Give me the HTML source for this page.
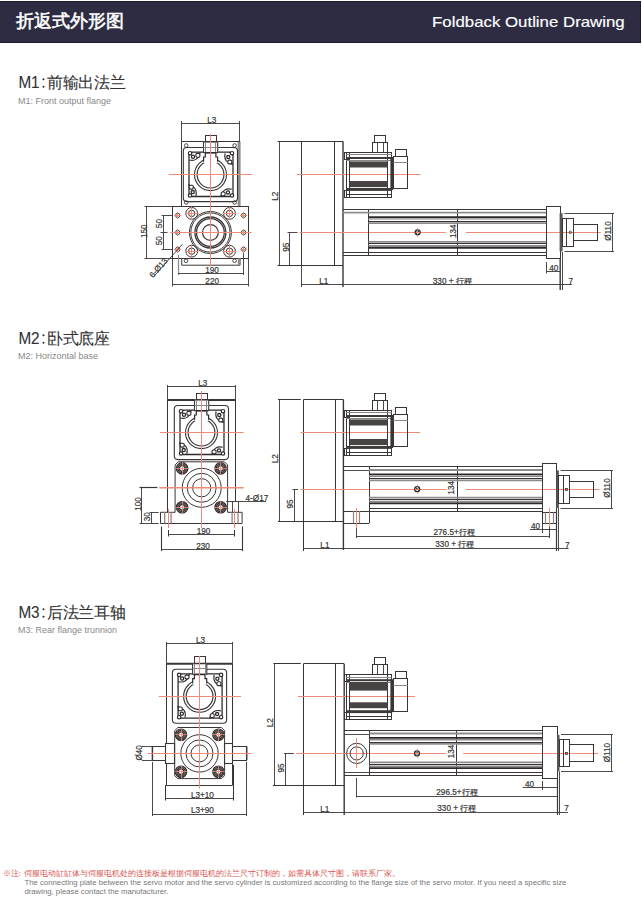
<!DOCTYPE html>
<html><head><meta charset="utf-8">
<style>
html,body{margin:0;padding:0;background:#fff;}
body{width:642px;height:904px;position:relative;overflow:hidden;font-family:"Liberation Sans",sans-serif;}
.hdr{position:absolute;left:0;top:1px;width:640px;height:40px;background:#2e2c43;border-right:1px solid #1e1c33;border-bottom:1px solid #1e1c33;border-top:1px solid #1e1c33;box-sizing:content-box;}
svg{position:absolute;left:0;top:0;font-family:"Liberation Sans",sans-serif;}
</style></head><body>
<div class="hdr"></div>
<svg width="642" height="904" viewBox="0 0 642 904">
<text x="16" y="27.1" font-size="18.3" fill="#fff" stroke="#fff" stroke-width="0.55">折返式外形图</text>
<text x="624.7" y="26.9" font-size="14.2" fill="#fff" stroke="#fff" stroke-width="0.15" text-anchor="end" textLength="192.6" lengthAdjust="spacingAndGlyphs">Foldback Outline Drawing</text>
<text x="18.4" y="87.8" font-size="16.3" fill="#333" stroke="#333" stroke-width="0.1" textLength="21.2" lengthAdjust="spacingAndGlyphs">M1</text><circle cx="43.5" cy="79.2" r="1.05" fill="#333"/><circle cx="43.5" cy="86.8" r="1.05" fill="#333"/><text x="46.6" y="88" font-size="15.6" fill="#333" stroke="#333" stroke-width="0.1" lengthAdjust="spacingAndGlyphs" textLength="79.6">前输出法兰</text>
<text x="18" y="103.6" font-size="9" fill="#888">M1: Front output flange</text>
<text x="18.4" y="343.8" font-size="16.3" fill="#333" stroke="#333" stroke-width="0.1" textLength="21.2" lengthAdjust="spacingAndGlyphs">M2</text><circle cx="43.5" cy="335.2" r="1.05" fill="#333"/><circle cx="43.5" cy="342.8" r="1.05" fill="#333"/><text x="46.6" y="344" font-size="15.6" fill="#333" stroke="#333" stroke-width="0.1" lengthAdjust="spacingAndGlyphs" textLength="63.7">卧式底座</text>
<text x="18" y="358.6" font-size="9" fill="#888">M2: Horizontal base</text>
<text x="18.4" y="617.8" font-size="16.3" fill="#333" stroke="#333" stroke-width="0.1" textLength="21.2" lengthAdjust="spacingAndGlyphs">M3</text><circle cx="43.5" cy="609.2" r="1.05" fill="#333"/><circle cx="43.5" cy="616.8" r="1.05" fill="#333"/><text x="46.6" y="618" font-size="15.6" fill="#333" stroke="#333" stroke-width="0.1" lengthAdjust="spacingAndGlyphs" textLength="79.6">后法兰耳轴</text>
<text x="18" y="632.5" font-size="9" fill="#888">M3: Rear flange trunnion</text>
<text x="2.5" y="876" font-size="8" fill="#d9534f">※注:<tspan dx="3.6">伺服电动缸缸体与伺服电机处的连接板是根据伺服电机的法兰尺寸订制的，如需具体尺寸图，请联系厂家。</tspan></text>
<text x="24.4" y="884.9" font-size="8" fill="#777" textLength="542" lengthAdjust="spacingAndGlyphs">The connecting plate between the servo motor and the servo cylinder is customized according to the flange size of the servo motor. If you need a specific size</text>
<text x="24.4" y="893.8" font-size="8" fill="#777" textLength="144" lengthAdjust="spacingAndGlyphs">drawing, please contact the manufacturer.</text>
<line x1="181.5" y1="141.4" x2="181.5" y2="206.2" stroke="#3a3636" stroke-width="1" />
<line x1="239.5" y1="141.4" x2="239.5" y2="206.2" stroke="#3a3636" stroke-width="1" />
<rect x="237.6" y="141.4" width="3.0" height="64.79999999999998" fill="#8f8c8c"/>
<line x1="181.5" y1="141.5" x2="239.8" y2="141.5" stroke="#3a3636" stroke-width="1" />
<rect x="183.3" y="147.5" width="54.2" height="54.1" rx="3.5" stroke="#3a3636" stroke-width="1.1" fill="none"/>
<path d="M203.5 152.2 L192.2 152.2 L189.0 155.39999999999998 L189.0 193.3 L192.2 196.5 L229.8 196.5 L233.0 193.3 L233.0 155.39999999999998 L229.8 152.2 L217.5 152.2" stroke="#2f2b2b" stroke-width="1.3" fill="none"/>
<circle cx="190.0" cy="153.2" r="1.7" stroke="#2f2b2b" stroke-width="1.2" fill="#fff"/>
<circle cx="232.0" cy="153.2" r="1.7" stroke="#2f2b2b" stroke-width="1.2" fill="#fff"/>
<circle cx="190.0" cy="195.5" r="1.7" stroke="#2f2b2b" stroke-width="1.2" fill="#fff"/>
<circle cx="232.0" cy="195.5" r="1.7" stroke="#2f2b2b" stroke-width="1.2" fill="#fff"/>
<path d="M189.2 160.0 Q198.0 162.1 200.3 152.2" stroke="#2f2b2b" stroke-width="1.1" fill="none"/>
<circle cx="193.0" cy="156.79999999999998" r="1.6" stroke="#2f2b2b" stroke-width="1.3" fill="#fff"/>
<rect x="195.9" y="153.39999999999998" width="4" height="3.8" rx="1.3" stroke="#2f2b2b" stroke-width="1.1" fill="#fff"/>
<path d="M225.1 153.29999999999998 Q223.0 162.1 232.9 164.4" stroke="#2f2b2b" stroke-width="1.1" fill="none"/>
<circle cx="228.3" cy="157.1" r="1.6" stroke="#2f2b2b" stroke-width="1.3" fill="#fff"/>
<rect x="227.8" y="160.1" width="4" height="3.8" rx="1.3" stroke="#2f2b2b" stroke-width="1.1" fill="#fff"/>
<path d="M231.8 189.2 Q223.0 187.1 220.7 197.0" stroke="#2f2b2b" stroke-width="1.1" fill="none"/>
<circle cx="228.0" cy="192.4" r="1.6" stroke="#2f2b2b" stroke-width="1.3" fill="#fff"/>
<rect x="221.1" y="192.0" width="4" height="3.8" rx="1.3" stroke="#2f2b2b" stroke-width="1.1" fill="#fff"/>
<path d="M195.9 195.9 Q198.0 187.1 188.1 184.79999999999998" stroke="#2f2b2b" stroke-width="1.1" fill="none"/>
<circle cx="192.7" cy="192.1" r="1.6" stroke="#2f2b2b" stroke-width="1.3" fill="#fff"/>
<rect x="189.2" y="185.29999999999998" width="4" height="3.8" rx="1.3" stroke="#2f2b2b" stroke-width="1.1" fill="#fff"/>
<circle cx="210.5" cy="174.6" r="16.0" stroke="#3a3636" stroke-width="1.1" fill="none"/>
<circle cx="210.5" cy="174.6" r="13.4" stroke="#3a3636" stroke-width="1.2" fill="none"/>
<rect x="203.5" y="141.6" width="14.199999999999989" height="15.0" fill="#fff"/>
<rect x="203.5" y="155.1" width="14.0" height="8.0" fill="#fff"/>
<path d="M203.6 161.79999999999998 L203.6 157.0 L205.3 157.0 L205.3 152.79999999999998" stroke="#2f2b2b" stroke-width="1.2" fill="none"/>
<path d="M217.6 161.79999999999998 L217.6 157.0 L215.9 157.0 L215.9 152.79999999999998" stroke="#2f2b2b" stroke-width="1.2" fill="none"/>
<rect x="205.5" y="135.5" width="11.0" height="6.0" stroke="#3a3636" stroke-width="1" fill="none" rx="0"/>
<rect x="203.5" y="142.0" width="14.2" height="10.6" stroke="#3a3636" stroke-width="1.1" fill="none"/>
<line x1="205.5" y1="142.0" x2="205.5" y2="152.6" stroke="#8a8787" stroke-width="1" />
<line x1="215.5" y1="142.0" x2="215.5" y2="152.6" stroke="#8a8787" stroke-width="1" />
<line x1="203.5" y1="147.5" x2="217.7" y2="147.5" stroke="#8a8787" stroke-width="1" />
<line x1="205.3" y1="152.79999999999998" x2="215.9" y2="152.79999999999998" stroke="#2f2b2b" stroke-width="1.5" />
<circle cx="186.2" cy="145.5" r="1.8" stroke="#3a3636" stroke-width="0.9" fill="none"/>
<circle cx="186.2" cy="202.5" r="1.8" stroke="#3a3636" stroke-width="0.9" fill="none"/>
<circle cx="234.6" cy="145.5" r="1.8" stroke="#3a3636" stroke-width="0.9" fill="none"/>
<circle cx="234.6" cy="202.5" r="1.8" stroke="#3a3636" stroke-width="0.9" fill="none"/>
<line x1="181.5" y1="123.5" x2="239.8" y2="123.5" stroke="#3a3636" stroke-width="0.9" />
<line x1="181.5" y1="121" x2="181.5" y2="141.4" stroke="#3a3636" stroke-width="0.9" />
<line x1="239.5" y1="121" x2="239.5" y2="141.4" stroke="#3a3636" stroke-width="0.9" />
<text x="211.7" y="123.0" font-size="8.2" text-anchor="middle" fill="#333" stroke="#333" stroke-width="0.18" >L3</text>
<rect x="172.5" y="206.5" width="76.0" height="52.0" stroke="#3a3636" stroke-width="1" fill="none" rx="0"/>
<path d="M181.7 258.4 L181.7 265.2 L240 265.2 L240 258.4" stroke="#3a3636" stroke-width="1" fill="none"/>
<rect x="237.8" y="258.4" width="2.799999999999983" height="6.800000000000011" fill="#8f8c8c"/>
<circle cx="186" cy="260.8" r="1.8" stroke="#3a3636" stroke-width="0.9" fill="none"/>
<circle cx="234.5" cy="260.8" r="1.8" stroke="#3a3636" stroke-width="0.9" fill="none"/>
<circle cx="210.4" cy="232.5" r="21" stroke="#3a3636" stroke-width="1" fill="none"/>
<circle cx="210.4" cy="232.5" r="19.6" stroke="#3a3636" stroke-width="1" fill="none"/>
<circle cx="210.4" cy="232.5" r="15.5" stroke="#3a3636" stroke-width="1.3" fill="none"/>
<circle cx="210.4" cy="232.5" r="13.9" stroke="#3a3636" stroke-width="1.3" fill="none"/>
<circle cx="210.4" cy="232.5" r="7.9" stroke="#3a3636" stroke-width="1.2" fill="none"/>
<circle cx="191.7" cy="213.4" r="5.9" stroke="#3a3636" stroke-width="1" fill="none"/>
<circle cx="191.7" cy="213.4" r="3.2" stroke="#3a3636" stroke-width="1" fill="none"/>
<line x1="184.89999999999998" y1="213.5" x2="198.5" y2="213.5" stroke="#ec8c76" stroke-width="1" />
<line x1="191.5" y1="206.6" x2="191.5" y2="220.20000000000002" stroke="#ec8c76" stroke-width="1" />
<circle cx="229.5" cy="213.4" r="5.9" stroke="#3a3636" stroke-width="1" fill="none"/>
<circle cx="229.5" cy="213.4" r="3.2" stroke="#3a3636" stroke-width="1" fill="none"/>
<line x1="222.7" y1="213.5" x2="236.3" y2="213.5" stroke="#ec8c76" stroke-width="1" />
<line x1="229.5" y1="206.6" x2="229.5" y2="220.20000000000002" stroke="#ec8c76" stroke-width="1" />
<circle cx="191.7" cy="251.2" r="5.9" stroke="#3a3636" stroke-width="1" fill="none"/>
<circle cx="191.7" cy="251.2" r="3.2" stroke="#3a3636" stroke-width="1" fill="none"/>
<line x1="184.89999999999998" y1="251.5" x2="198.5" y2="251.5" stroke="#ec8c76" stroke-width="1" />
<line x1="191.5" y1="244.39999999999998" x2="191.5" y2="258.0" stroke="#ec8c76" stroke-width="1" />
<circle cx="229.5" cy="251.2" r="5.9" stroke="#3a3636" stroke-width="1" fill="none"/>
<circle cx="229.5" cy="251.2" r="3.2" stroke="#3a3636" stroke-width="1" fill="none"/>
<line x1="222.7" y1="251.5" x2="236.3" y2="251.5" stroke="#ec8c76" stroke-width="1" />
<line x1="229.5" y1="244.39999999999998" x2="229.5" y2="258.0" stroke="#ec8c76" stroke-width="1" />
<circle cx="177.7" cy="215.4" r="2.2" stroke="#3a3636" stroke-width="0.9" fill="none"/>
<line x1="174.1" y1="215.5" x2="181.29999999999998" y2="215.5" stroke="#ec8c76" stroke-width="1" />
<line x1="177.5" y1="211.8" x2="177.5" y2="219.0" stroke="#ec8c76" stroke-width="1" />
<circle cx="177.7" cy="232.5" r="2.2" stroke="#3a3636" stroke-width="0.9" fill="none"/>
<line x1="174.1" y1="232.5" x2="181.29999999999998" y2="232.5" stroke="#ec8c76" stroke-width="1" />
<line x1="177.5" y1="228.9" x2="177.5" y2="236.1" stroke="#ec8c76" stroke-width="1" />
<circle cx="177.7" cy="249.3" r="2.2" stroke="#3a3636" stroke-width="0.9" fill="none"/>
<line x1="174.1" y1="249.5" x2="181.29999999999998" y2="249.5" stroke="#ec8c76" stroke-width="1" />
<line x1="177.5" y1="245.70000000000002" x2="177.5" y2="252.9" stroke="#ec8c76" stroke-width="1" />
<circle cx="243.6" cy="215.4" r="2.2" stroke="#3a3636" stroke-width="0.9" fill="none"/>
<line x1="240.0" y1="215.5" x2="247.2" y2="215.5" stroke="#ec8c76" stroke-width="1" />
<line x1="243.5" y1="211.8" x2="243.5" y2="219.0" stroke="#ec8c76" stroke-width="1" />
<circle cx="243.6" cy="232.5" r="2.2" stroke="#3a3636" stroke-width="0.9" fill="none"/>
<line x1="240.0" y1="232.5" x2="247.2" y2="232.5" stroke="#ec8c76" stroke-width="1" />
<line x1="243.5" y1="228.9" x2="243.5" y2="236.1" stroke="#ec8c76" stroke-width="1" />
<circle cx="243.6" cy="249.3" r="2.2" stroke="#3a3636" stroke-width="0.9" fill="none"/>
<line x1="240.0" y1="249.5" x2="247.2" y2="249.5" stroke="#ec8c76" stroke-width="1" />
<line x1="243.5" y1="245.70000000000002" x2="243.5" y2="252.9" stroke="#ec8c76" stroke-width="1" />
<line x1="210.5" y1="134" x2="210.5" y2="266.5" stroke="#ec8c76" stroke-width="1" />
<line x1="168.7" y1="174.5" x2="252.2" y2="174.5" stroke="#ec8c76" stroke-width="1" />
<line x1="170" y1="232.5" x2="251.7" y2="232.5" stroke="#ec8c76" stroke-width="1" />
<line x1="146.5" y1="206.2" x2="146.5" y2="258.4" stroke="#3a3636" stroke-width="0.9" />
<line x1="144.5" y1="206.5" x2="172.6" y2="206.5" stroke="#3a3636" stroke-width="0.9" />
<line x1="144.5" y1="258.5" x2="172.6" y2="258.5" stroke="#3a3636" stroke-width="0.9" />
<text x="146.6" y="231.2" font-size="8.2" text-anchor="middle" fill="#333" stroke="#333" stroke-width="0.18" transform="rotate(-90 146.6 231.2)" >150</text>
<line x1="163.5" y1="215.6" x2="163.5" y2="249.2" stroke="#3a3636" stroke-width="0.9" />
<line x1="161.5" y1="215.5" x2="172.6" y2="215.5" stroke="#3a3636" stroke-width="0.9" />
<line x1="161.5" y1="249.5" x2="172.6" y2="249.5" stroke="#3a3636" stroke-width="0.9" />
<line x1="160.5" y1="232.5" x2="167.5" y2="232.5" stroke="#3a3636" stroke-width="0.9" />
<text x="161.6" y="223.6" font-size="8.2" text-anchor="middle" fill="#333" stroke="#333" stroke-width="0.18" transform="rotate(-90 161.6 223.6)" >50</text>
<text x="161.6" y="240.8" font-size="8.2" text-anchor="middle" fill="#333" stroke="#333" stroke-width="0.18" transform="rotate(-90 161.6 240.8)" >50</text>
<line x1="178.5" y1="255" x2="178.5" y2="275" stroke="#8a8787" stroke-width="1.2" />
<line x1="243.5" y1="253" x2="243.5" y2="275" stroke="#3a3636" stroke-width="0.9" />
<line x1="178.2" y1="273.5" x2="243.6" y2="273.5" stroke="#3a3636" stroke-width="0.9" />
<text x="212.1" y="273" font-size="8.2" text-anchor="middle" fill="#333" stroke="#333" stroke-width="0.18" >190</text>
<line x1="172.5" y1="258.4" x2="172.5" y2="286.5" stroke="#3a3636" stroke-width="0.9" />
<line x1="248.5" y1="258.4" x2="248.5" y2="286.5" stroke="#3a3636" stroke-width="0.9" />
<line x1="172.6" y1="284.5" x2="248.6" y2="284.5" stroke="#3a3636" stroke-width="0.9" />
<text x="212.2" y="284.3" font-size="8.2" text-anchor="middle" fill="#333" stroke="#333" stroke-width="0.18" >220</text>
<line x1="182.4" y1="244.2" x2="153.7" y2="276.6" stroke="#3a3636" stroke-width="0.9" />
<text x="160.6" y="269.6" font-size="8.2" text-anchor="middle" fill="#333" stroke="#333" stroke-width="0.18" transform="rotate(-48.5 160.6 269.6)" >6-Ø13</text>
<line x1="277.5" y1="141.5" x2="343" y2="141.5" stroke="#3a3636" stroke-width="1" />
<line x1="301.5" y1="141.3" x2="301.5" y2="265.2" stroke="#3a3636" stroke-width="1" />
<line x1="334.5" y1="141.3" x2="334.5" y2="265.2" stroke="#3a3636" stroke-width="1" />
<line x1="343" y1="141.3" x2="343" y2="287" stroke="#3a3636" stroke-width="1.4" />
<line x1="277.5" y1="265.5" x2="343" y2="265.5" stroke="#3a3636" stroke-width="1" />
<line x1="279.5" y1="141.3" x2="279.5" y2="265.2" stroke="#3a3636" stroke-width="0.9" />
<text x="278.3" y="196.2" font-size="8.2" text-anchor="middle" fill="#333" stroke="#333" stroke-width="0.18" transform="rotate(-90 278.3 196.2)" >L2</text>
<line x1="289.5" y1="232.6" x2="289.5" y2="265.2" stroke="#3a3636" stroke-width="0.9" />
<line x1="287.5" y1="232.5" x2="297.5" y2="232.5" stroke="#3a3636" stroke-width="0.9" />
<text x="289.3" y="247.3" font-size="8.2" text-anchor="middle" fill="#333" stroke="#333" stroke-width="0.18" transform="rotate(-90 289.3 247.3)" >95</text>
<line x1="296.8" y1="174.5" x2="420.5" y2="174.5" stroke="#ec8c76" stroke-width="1" />
<line x1="299.5" y1="232.5" x2="445.7" y2="232.5" stroke="#ec8c76" stroke-width="1" />
<line x1="466" y1="232.5" x2="600.8" y2="232.5" stroke="#ec8c76" stroke-width="1" />
<rect x="344.5" y="152.5" width="5.0" height="7.0" stroke="#3a3636" stroke-width="1" fill="none" rx="0"/>
<rect x="344.5" y="190.5" width="5.0" height="7.0" stroke="#3a3636" stroke-width="1" fill="none" rx="0"/>
<rect x="346.5" y="152.5" width="45.0" height="45.0" stroke="#3a3636" stroke-width="1" fill="none" rx="0"/>
<line x1="349.5" y1="152.3" x2="349.5" y2="197.2" stroke="#3a3636" stroke-width="1" />
<line x1="387.5" y1="152.3" x2="387.5" y2="197.2" stroke="#3a3636" stroke-width="1" />
<line x1="346.2" y1="160.5" x2="391.8" y2="160.5" stroke="#8a8686" stroke-width="1" />
<line x1="346.2" y1="194.5" x2="391.8" y2="194.5" stroke="#3a3636" stroke-width="1" />
<rect x="349.7" y="161.4" width="37.900000000000034" height="6.099999999999994" fill="#484444"/>
<rect x="349.7" y="181" width="37.900000000000034" height="6.099999999999994" fill="#484444"/>
<rect x="346.2" y="157" width="45.60000000000002" height="2" fill="#3f3b3b"/>
<rect x="346.2" y="188" width="45.60000000000002" height="2.9000000000000057" fill="#3f3b3b"/>
<line x1="346.2" y1="154.5" x2="391.8" y2="154.5" stroke="#8a8686" stroke-width="1" />
<rect x="374.5" y="135.5" width="11.0" height="7.0" stroke="#3a3636" stroke-width="1" fill="none" rx="0"/>
<rect x="372.5" y="142.5" width="15.0" height="10.0" stroke="#3a3636" stroke-width="1" fill="none" rx="0"/>
<line x1="377.5" y1="142.5" x2="377.5" y2="152.3" stroke="#3a3636" stroke-width="0.9" />
<line x1="383.5" y1="142.5" x2="383.5" y2="152.3" stroke="#3a3636" stroke-width="0.9" />
<rect x="390.4" y="157" width="2.8000000000000114" height="33" fill="#3a3636"/>
<rect x="393.5" y="156.5" width="14.0" height="32.0" stroke="#3a3636" stroke-width="1" fill="none" rx="0"/>
<rect x="395.5" y="149.5" width="11.0" height="7.0" stroke="#3a3636" stroke-width="1" fill="none" rx="0"/>
<line x1="393.2" y1="162.5" x2="407.9" y2="162.5" stroke="#8a8787" stroke-width="1" />
<line x1="343" y1="209.5" x2="546.4" y2="209.5" stroke="#3a3636" stroke-width="1" />
<line x1="343" y1="255.5" x2="546.4" y2="255.5" stroke="#3a3636" stroke-width="1" />
<line x1="368.5" y1="209.3" x2="368.5" y2="255.3" stroke="#3a3636" stroke-width="1" />
<line x1="457.5" y1="209.3" x2="457.5" y2="255.3" stroke="#3a3636" stroke-width="1" />
<line x1="343" y1="212.70000000000002" x2="546.4" y2="212.70000000000002" stroke="#8f8c8c" stroke-width="1.8" />
<line x1="368.5" y1="217.10000000000002" x2="546.4" y2="217.10000000000002" stroke="#2e2a2a" stroke-width="1.9" />
<line x1="368.5" y1="218.9" x2="546.4" y2="218.9" stroke="#8f8c8c" stroke-width="1.4" />
<line x1="368.5" y1="221.5" x2="546.4" y2="221.5" stroke="#3a3636" stroke-width="1" />
<line x1="368.5" y1="223.10000000000002" x2="546.4" y2="223.10000000000002" stroke="#8f8c8c" stroke-width="1.8" />
<line x1="368.5" y1="241.9" x2="546.4" y2="241.9" stroke="#8f8c8c" stroke-width="1.8" />
<line x1="368.5" y1="243.5" x2="546.4" y2="243.5" stroke="#3a3636" stroke-width="1" />
<line x1="368.5" y1="245.9" x2="546.4" y2="245.9" stroke="#8f8c8c" stroke-width="1.8" />
<line x1="368.5" y1="247.70000000000002" x2="546.4" y2="247.70000000000002" stroke="#2e2a2a" stroke-width="1.9" />
<line x1="343" y1="252.5" x2="546.4" y2="252.5" stroke="#3a3636" stroke-width="1" />
<circle cx="417.7" cy="232.3" r="2.5" stroke="#2f2b2b" stroke-width="1.3" fill="#fff"/>
<line x1="415.9" y1="230.5" x2="419.5" y2="234.10000000000002" stroke="#3a3636" stroke-width="1.0" />
<line x1="415.9" y1="234.10000000000002" x2="419.5" y2="230.5" stroke="#3a3636" stroke-width="1.0" />
<line x1="415.7" y1="232.5" x2="419.7" y2="232.5" stroke="#ec8c76" stroke-width="1.0" />
<line x1="417.5" y1="227.8" x2="417.5" y2="229.5" stroke="#ec8c76" stroke-width="0.9" />
<line x1="417.5" y1="235.10000000000002" x2="417.5" y2="236.8" stroke="#ec8c76" stroke-width="0.9" />
<text x="456.2" y="231.2" font-size="8.2" text-anchor="middle" fill="#333" stroke="#333" stroke-width="0.18" transform="rotate(-90 456.2 231.2)" >134</text>
<rect x="546.5" y="206.5" width="14.0" height="52.0" stroke="#3a3636" stroke-width="1" fill="none" rx="0"/>
<rect x="559.6" y="213.2" width="3.0" height="38.20000000000002" fill="#5a5656"/>
<rect x="562.5" y="218.5" width="11.0" height="28.0" stroke="#3a3636" stroke-width="1" fill="none" rx="0"/>
<line x1="566.5" y1="218.6" x2="566.5" y2="246.6" stroke="#3a3636" stroke-width="1" />
<rect x="573.5" y="224.5" width="24.0" height="16.0" stroke="#3a3636" stroke-width="1" fill="none" rx="0"/>
<circle cx="570.3" cy="232.4" r="1.2" stroke="#3a3636" stroke-width="0.9" fill="none"/>
<line x1="564.4" y1="213.5" x2="614" y2="213.5" stroke="#3a3636" stroke-width="0.9" />
<line x1="564.4" y1="251.5" x2="614" y2="251.5" stroke="#3a3636" stroke-width="0.9" />
<line x1="612.5" y1="213.2" x2="612.5" y2="251.4" stroke="#3a3636" stroke-width="0.9" />
<text x="611.0" y="231.0" font-size="8.2" text-anchor="middle" fill="#333" stroke="#333" stroke-width="0.18" transform="rotate(-90 611.0 231.0)" >Ø110</text>
<line x1="546.5" y1="262" x2="546.5" y2="273.5" stroke="#3a3636" stroke-width="0.9" />
<line x1="546.4" y1="271.5" x2="560.2" y2="271.5" stroke="#3a3636" stroke-width="0.9" />
<text x="553.8" y="271.2" font-size="8.2" text-anchor="middle" fill="#333" stroke="#333" stroke-width="0.18" >40</text>
<line x1="560.2" y1="258.4" x2="560.2" y2="290" stroke="#3a3636" stroke-width="1.4" />
<line x1="562.5" y1="252" x2="562.5" y2="290" stroke="#3a3636" stroke-width="0.9" />
<line x1="301.5" y1="265.2" x2="301.5" y2="287" stroke="#3a3636" stroke-width="0.9" />
<line x1="301.2" y1="284.5" x2="572" y2="284.5" stroke="#3a3636" stroke-width="0.9" />
<text x="323.7" y="283.8" font-size="8.2" text-anchor="middle" fill="#333" stroke="#333" stroke-width="0.18" >L1</text>
<text x="432.8" y="283.8" font-size="8.2" text-anchor="start" fill="#333" stroke="#333" stroke-width="0.18" >330 + 行程</text>
<text x="570.7" y="283.8" font-size="8.2" text-anchor="middle" fill="#333" stroke="#333" stroke-width="0.18" >7</text>
<line x1="167.2" y1="400" x2="235.8" y2="400" stroke="#3a3636" stroke-width="2" />
<line x1="167.5" y1="400" x2="167.5" y2="512.3" stroke="#3a3636" stroke-width="1" />
<line x1="235.5" y1="400" x2="235.5" y2="501.5" stroke="#3a3636" stroke-width="1" />
<rect x="174.3" y="405.5" width="54.2" height="54.1" rx="3.5" stroke="#3a3636" stroke-width="1.1" fill="none"/>
<path d="M194.5 410.20000000000005 L183.2 410.20000000000005 L180.0 413.40000000000003 L180.0 451.3 L183.2 454.5 L220.8 454.5 L224.0 451.3 L224.0 413.40000000000003 L220.8 410.20000000000005 L208.5 410.20000000000005" stroke="#2f2b2b" stroke-width="1.3" fill="none"/>
<circle cx="181.0" cy="411.20000000000005" r="1.7" stroke="#2f2b2b" stroke-width="1.2" fill="#fff"/>
<circle cx="223.0" cy="411.20000000000005" r="1.7" stroke="#2f2b2b" stroke-width="1.2" fill="#fff"/>
<circle cx="181.0" cy="453.5" r="1.7" stroke="#2f2b2b" stroke-width="1.2" fill="#fff"/>
<circle cx="223.0" cy="453.5" r="1.7" stroke="#2f2b2b" stroke-width="1.2" fill="#fff"/>
<path d="M180.2 418.0 Q189.0 420.1 191.3 410.20000000000005" stroke="#2f2b2b" stroke-width="1.1" fill="none"/>
<circle cx="184.0" cy="414.8" r="1.6" stroke="#2f2b2b" stroke-width="1.3" fill="#fff"/>
<rect x="186.9" y="411.40000000000003" width="4" height="3.8" rx="1.3" stroke="#2f2b2b" stroke-width="1.1" fill="#fff"/>
<path d="M216.1 411.3 Q214.0 420.1 223.9 422.40000000000003" stroke="#2f2b2b" stroke-width="1.1" fill="none"/>
<circle cx="219.3" cy="415.1" r="1.6" stroke="#2f2b2b" stroke-width="1.3" fill="#fff"/>
<rect x="218.8" y="418.1" width="4" height="3.8" rx="1.3" stroke="#2f2b2b" stroke-width="1.1" fill="#fff"/>
<path d="M222.8 447.20000000000005 Q214.0 445.1 211.7 455.0" stroke="#2f2b2b" stroke-width="1.1" fill="none"/>
<circle cx="219.0" cy="450.40000000000003" r="1.6" stroke="#2f2b2b" stroke-width="1.3" fill="#fff"/>
<rect x="212.1" y="450.00000000000006" width="4" height="3.8" rx="1.3" stroke="#2f2b2b" stroke-width="1.1" fill="#fff"/>
<path d="M186.9 453.90000000000003 Q189.0 445.1 179.1 442.8" stroke="#2f2b2b" stroke-width="1.1" fill="none"/>
<circle cx="183.7" cy="450.1" r="1.6" stroke="#2f2b2b" stroke-width="1.3" fill="#fff"/>
<rect x="180.2" y="443.30000000000007" width="4" height="3.8" rx="1.3" stroke="#2f2b2b" stroke-width="1.1" fill="#fff"/>
<circle cx="201.5" cy="432.6" r="16.0" stroke="#3a3636" stroke-width="1.1" fill="none"/>
<circle cx="201.5" cy="432.6" r="13.4" stroke="#3a3636" stroke-width="1.2" fill="none"/>
<rect x="194.5" y="399.6" width="14.199999999999989" height="15.0" fill="#fff"/>
<rect x="194.5" y="413.1" width="14.0" height="8.0" fill="#fff"/>
<path d="M194.6 419.8 L194.6 415.0 L196.3 415.0 L196.3 410.8" stroke="#2f2b2b" stroke-width="1.2" fill="none"/>
<path d="M208.6 419.8 L208.6 415.0 L206.9 415.0 L206.9 410.8" stroke="#2f2b2b" stroke-width="1.2" fill="none"/>
<rect x="196.5" y="393.5" width="11.0" height="6.0" stroke="#3a3636" stroke-width="1" fill="none" rx="0"/>
<rect x="194.5" y="400.0" width="14.2" height="10.6" stroke="#3a3636" stroke-width="1.1" fill="none"/>
<line x1="196.5" y1="400.0" x2="196.5" y2="410.6" stroke="#8a8787" stroke-width="1" />
<line x1="206.5" y1="400.0" x2="206.5" y2="410.6" stroke="#8a8787" stroke-width="1" />
<line x1="194.5" y1="405.5" x2="208.7" y2="405.5" stroke="#8a8787" stroke-width="1" />
<line x1="196.3" y1="410.8" x2="206.9" y2="410.8" stroke="#2f2b2b" stroke-width="1.5" />
<line x1="167.2" y1="386.5" x2="235.8" y2="386.5" stroke="#3a3636" stroke-width="0.9" />
<line x1="167.5" y1="385" x2="167.5" y2="400" stroke="#3a3636" stroke-width="0.9" />
<line x1="235.5" y1="385" x2="235.5" y2="400" stroke="#3a3636" stroke-width="0.9" />
<text x="202.7" y="386.2" font-size="8.2" text-anchor="middle" fill="#333" stroke="#333" stroke-width="0.18" >L3</text>
<path d="M175.1 512.3 L175.1 465 L178.3 461.8 L224.4 461.8 L227.6 465 L227.6 512.3" stroke="#3a3636" stroke-width="1" fill="none"/>
<path d="M175.1 512.3 L160.5 512.3 L160.5 523.5 L242.1 523.5 L242.1 512.3 L227.6 512.3" stroke="#3a3636" stroke-width="1" fill="none"/>
<line x1="164.7" y1="512.3" x2="164.7" y2="523.5" stroke="#8a8787" stroke-width="1.3" />
<line x1="171.1" y1="512.3" x2="171.1" y2="523.5" stroke="#8a8787" stroke-width="1.3" />
<line x1="232.1" y1="512.3" x2="232.1" y2="523.5" stroke="#8a8787" stroke-width="1.3" />
<line x1="238" y1="512.3" x2="238" y2="523.5" stroke="#8a8787" stroke-width="1.3" />
<line x1="232.5" y1="501.5" x2="232.5" y2="512.3" stroke="#3a3636" stroke-width="0.9" />
<line x1="238.5" y1="501.5" x2="238.5" y2="512.3" stroke="#3a3636" stroke-width="0.9" />
<line x1="168.5" y1="509" x2="168.5" y2="528" stroke="#ec8c76" stroke-width="1" />
<line x1="234.5" y1="509" x2="234.5" y2="528" stroke="#ec8c76" stroke-width="1" />
<circle cx="201.7" cy="487.8" r="19.5" stroke="#3a3636" stroke-width="1" fill="none"/>
<circle cx="201.7" cy="487.8" r="14.5" stroke="#3a3636" stroke-width="1" fill="none"/>
<circle cx="201.7" cy="487.8" r="9.1" stroke="#3a3636" stroke-width="1" fill="none"/>
<circle cx="182.1" cy="468.4" r="5.7" stroke="#2f2b2b" stroke-width="1.2" fill="#8a8686"/>
<circle cx="182.1" cy="468.4" r="4.3" stroke="#2f2b2b" stroke-width="1.0" fill="none"/>
<circle cx="182.1" cy="468.4" r="2.9" stroke="#2f2b2b" stroke-width="1.0" fill="none"/>
<circle cx="182.1" cy="468.4" r="1.3" stroke="#fff" stroke-width="1.2" fill="#fff"/>
<line x1="175.6" y1="468.5" x2="188.6" y2="468.5" stroke="#ec8c76" stroke-width="0.8" />
<line x1="182.5" y1="461.9" x2="182.5" y2="474.9" stroke="#ec8c76" stroke-width="0.8" />
<circle cx="220.6" cy="468.4" r="5.7" stroke="#2f2b2b" stroke-width="1.2" fill="#8a8686"/>
<circle cx="220.6" cy="468.4" r="4.3" stroke="#2f2b2b" stroke-width="1.0" fill="none"/>
<circle cx="220.6" cy="468.4" r="2.9" stroke="#2f2b2b" stroke-width="1.0" fill="none"/>
<circle cx="220.6" cy="468.4" r="1.3" stroke="#fff" stroke-width="1.2" fill="#fff"/>
<line x1="214.1" y1="468.5" x2="227.1" y2="468.5" stroke="#ec8c76" stroke-width="0.8" />
<line x1="220.5" y1="461.9" x2="220.5" y2="474.9" stroke="#ec8c76" stroke-width="0.8" />
<circle cx="182.1" cy="507.3" r="5.7" stroke="#2f2b2b" stroke-width="1.2" fill="#8a8686"/>
<circle cx="182.1" cy="507.3" r="4.3" stroke="#2f2b2b" stroke-width="1.0" fill="none"/>
<circle cx="182.1" cy="507.3" r="2.9" stroke="#2f2b2b" stroke-width="1.0" fill="none"/>
<circle cx="182.1" cy="507.3" r="1.3" stroke="#fff" stroke-width="1.2" fill="#fff"/>
<line x1="175.6" y1="507.5" x2="188.6" y2="507.5" stroke="#ec8c76" stroke-width="0.8" />
<line x1="182.5" y1="500.8" x2="182.5" y2="513.8" stroke="#ec8c76" stroke-width="0.8" />
<circle cx="220.6" cy="507.3" r="5.7" stroke="#2f2b2b" stroke-width="1.2" fill="#8a8686"/>
<circle cx="220.6" cy="507.3" r="4.3" stroke="#2f2b2b" stroke-width="1.0" fill="none"/>
<circle cx="220.6" cy="507.3" r="2.9" stroke="#2f2b2b" stroke-width="1.0" fill="none"/>
<circle cx="220.6" cy="507.3" r="1.3" stroke="#fff" stroke-width="1.2" fill="#fff"/>
<line x1="214.1" y1="507.5" x2="227.1" y2="507.5" stroke="#ec8c76" stroke-width="0.8" />
<line x1="220.5" y1="500.8" x2="220.5" y2="513.8" stroke="#ec8c76" stroke-width="0.8" />
<line x1="201.5" y1="391" x2="201.5" y2="528" stroke="#ec8c76" stroke-width="1" />
<line x1="160" y1="432.5" x2="243.5" y2="432.5" stroke="#ec8c76" stroke-width="1" />
<line x1="159.3" y1="487.8" x2="243.7" y2="487.8" stroke="#ec8c76" stroke-width="1.6" />
<line x1="141.5" y1="487.8" x2="141.5" y2="523.5" stroke="#3a3636" stroke-width="0.9" />
<line x1="139.5" y1="487.5" x2="157.4" y2="487.5" stroke="#3a3636" stroke-width="1.2" />
<text x="141.2" y="503.9" font-size="8.2" text-anchor="middle" fill="#333" stroke="#333" stroke-width="0.18" transform="rotate(-90 141.2 503.9)" >100</text>
<line x1="151.5" y1="512.3" x2="151.5" y2="523.5" stroke="#3a3636" stroke-width="0.9" />
<line x1="149.5" y1="512.5" x2="158.7" y2="512.5" stroke="#3a3636" stroke-width="0.9" />
<text x="150.2" y="516.8" font-size="8.2" text-anchor="middle" fill="#333" stroke="#333" stroke-width="0.18" transform="rotate(-90 150.2 516.8)" >30</text>
<line x1="139.5" y1="523.5" x2="158.7" y2="523.5" stroke="#3a3636" stroke-width="0.9" />
<line x1="168.5" y1="530" x2="168.5" y2="536.5" stroke="#3a3636" stroke-width="1" />
<line x1="234.5" y1="530" x2="234.5" y2="536.5" stroke="#3a3636" stroke-width="1" />
<line x1="168" y1="534.5" x2="234.9" y2="534.5" stroke="#3a3636" stroke-width="0.9" />
<text x="203.5" y="534.4" font-size="8.2" text-anchor="middle" fill="#333" stroke="#333" stroke-width="0.18" >190</text>
<line x1="161.5" y1="526.5" x2="161.5" y2="551" stroke="#3a3636" stroke-width="1.1" />
<line x1="242.5" y1="526.5" x2="242.5" y2="551" stroke="#3a3636" stroke-width="1.1" />
<line x1="161" y1="549.5" x2="242.1" y2="549.5" stroke="#3a3636" stroke-width="0.9" />
<text x="203.1" y="549.2" font-size="8.2" text-anchor="middle" fill="#333" stroke="#333" stroke-width="0.18" >230</text>
<line x1="226" y1="501.5" x2="266" y2="501.5" stroke="#3a3636" stroke-width="0.9" />
<text x="256.9" y="500.8" font-size="8.2" text-anchor="middle" fill="#333" stroke="#333" stroke-width="0.18" >4-Ø17</text>
<line x1="278" y1="399.5" x2="300.8" y2="399.5" stroke="#3a3636" stroke-width="1" />
<line x1="303.6" y1="399.5" x2="343.3" y2="399.5" stroke="#3a3636" stroke-width="1.2" />
<line x1="303.5" y1="399.4" x2="303.5" y2="551" stroke="#3a3636" stroke-width="1" />
<line x1="335.5" y1="399.4" x2="335.5" y2="521.3" stroke="#3a3636" stroke-width="1" />
<line x1="343.4" y1="399.4" x2="343.4" y2="550" stroke="#3a3636" stroke-width="1.4" />
<line x1="278" y1="521.5" x2="303.6" y2="521.5" stroke="#3a3636" stroke-width="1" />
<line x1="303.6" y1="521.5" x2="343.4" y2="521.5" stroke="#3a3636" stroke-width="1" />
<line x1="279.5" y1="399.4" x2="279.5" y2="521.3" stroke="#3a3636" stroke-width="0.9" />
<text x="278.1" y="458.7" font-size="8.2" text-anchor="middle" fill="#333" stroke="#333" stroke-width="0.18" transform="rotate(-90 278.1 458.7)" >L2</text>
<line x1="294.5" y1="489.4" x2="294.5" y2="521.3" stroke="#3a3636" stroke-width="0.9" />
<line x1="292.5" y1="489.5" x2="298" y2="489.5" stroke="#3a3636" stroke-width="0.9" />
<text x="293.2" y="504" font-size="8.2" text-anchor="middle" fill="#333" stroke="#333" stroke-width="0.18" transform="rotate(-90 293.2 504)" >95</text>
<line x1="300.4" y1="432.5" x2="419.9" y2="432.5" stroke="#ec8c76" stroke-width="1" />
<line x1="300.4" y1="489.5" x2="446.5" y2="489.5" stroke="#ec8c76" stroke-width="1" />
<line x1="466" y1="489.5" x2="599.4" y2="489.5" stroke="#ec8c76" stroke-width="1" />
<rect x="344.5" y="410.5" width="5.0" height="7.0" stroke="#3a3636" stroke-width="1" fill="none" rx="0"/>
<rect x="344.5" y="448.5" width="5.0" height="7.0" stroke="#3a3636" stroke-width="1" fill="none" rx="0"/>
<rect x="346.5" y="410.5" width="45.0" height="45.0" stroke="#3a3636" stroke-width="1" fill="none" rx="0"/>
<line x1="349.5" y1="410.3" x2="349.5" y2="455.2" stroke="#3a3636" stroke-width="1" />
<line x1="387.5" y1="410.3" x2="387.5" y2="455.2" stroke="#3a3636" stroke-width="1" />
<line x1="346.2" y1="418.5" x2="391.8" y2="418.5" stroke="#8a8686" stroke-width="1" />
<line x1="346.2" y1="452.5" x2="391.8" y2="452.5" stroke="#3a3636" stroke-width="1" />
<rect x="349.7" y="419.4" width="37.900000000000034" height="6.100000000000023" fill="#484444"/>
<rect x="349.7" y="439" width="37.900000000000034" height="6.100000000000023" fill="#484444"/>
<rect x="346.2" y="415" width="45.60000000000002" height="2" fill="#3f3b3b"/>
<rect x="346.2" y="446" width="45.60000000000002" height="2.8999999999999773" fill="#3f3b3b"/>
<line x1="346.2" y1="412.5" x2="391.8" y2="412.5" stroke="#8a8686" stroke-width="1" />
<rect x="374.5" y="393.5" width="11.0" height="7.0" stroke="#3a3636" stroke-width="1" fill="none" rx="0"/>
<rect x="372.5" y="400.5" width="15.0" height="10.0" stroke="#3a3636" stroke-width="1" fill="none" rx="0"/>
<line x1="377.5" y1="400.5" x2="377.5" y2="410.3" stroke="#3a3636" stroke-width="0.9" />
<line x1="383.5" y1="400.5" x2="383.5" y2="410.3" stroke="#3a3636" stroke-width="0.9" />
<rect x="390.4" y="415" width="2.8000000000000114" height="33" fill="#3a3636"/>
<rect x="393.5" y="414.5" width="14.0" height="32.0" stroke="#3a3636" stroke-width="1" fill="none" rx="0"/>
<rect x="395.5" y="407.5" width="11.0" height="7.0" stroke="#3a3636" stroke-width="1" fill="none" rx="0"/>
<line x1="393.2" y1="420.5" x2="407.9" y2="420.5" stroke="#8a8787" stroke-width="1" />
<line x1="343.4" y1="466.5" x2="542.9" y2="466.5" stroke="#3a3636" stroke-width="1" />
<line x1="343.4" y1="511.5" x2="542.9" y2="511.5" stroke="#3a3636" stroke-width="1" />
<line x1="343.4" y1="470.5" x2="369" y2="470.5" stroke="#3a3636" stroke-width="0.9" />
<line x1="369.5" y1="466.6" x2="369.5" y2="523.2" stroke="#3a3636" stroke-width="1" />
<line x1="343.4" y1="523.5" x2="369" y2="523.5" stroke="#3a3636" stroke-width="1" />
<line x1="353.5" y1="511" x2="353.5" y2="523.2" stroke="#8a8787" stroke-width="1.2" />
<line x1="359.5" y1="511" x2="359.5" y2="523.2" stroke="#8a8787" stroke-width="1.2" />
<line x1="356.5" y1="508" x2="356.5" y2="528" stroke="#ec8c76" stroke-width="1" />
<line x1="356.5" y1="528" x2="356.5" y2="538" stroke="#3a3636" stroke-width="0.9" />
<line x1="457.5" y1="466.6" x2="457.5" y2="511" stroke="#3a3636" stroke-width="1" />
<line x1="369" y1="470.0" x2="542.9" y2="470.0" stroke="#8f8c8c" stroke-width="1.8" />
<line x1="369" y1="474.40000000000003" x2="542.9" y2="474.40000000000003" stroke="#2e2a2a" stroke-width="1.9" />
<line x1="369" y1="476.20000000000005" x2="542.9" y2="476.20000000000005" stroke="#8f8c8c" stroke-width="1.4" />
<line x1="369" y1="478.5" x2="542.9" y2="478.5" stroke="#3a3636" stroke-width="1" />
<line x1="369" y1="480.40000000000003" x2="542.9" y2="480.40000000000003" stroke="#8f8c8c" stroke-width="1.8" />
<line x1="369" y1="497.6" x2="542.9" y2="497.6" stroke="#8f8c8c" stroke-width="1.8" />
<line x1="369" y1="499.5" x2="542.9" y2="499.5" stroke="#3a3636" stroke-width="1" />
<line x1="369" y1="501.6" x2="542.9" y2="501.6" stroke="#8f8c8c" stroke-width="1.8" />
<line x1="369" y1="503.4" x2="542.9" y2="503.4" stroke="#2e2a2a" stroke-width="1.9" />
<line x1="369" y1="508.5" x2="542.9" y2="508.5" stroke="#3a3636" stroke-width="1" />
<circle cx="417.2" cy="489.2" r="2.5" stroke="#2f2b2b" stroke-width="1.3" fill="#fff"/>
<line x1="415.4" y1="487.4" x2="419.0" y2="491.0" stroke="#3a3636" stroke-width="1.0" />
<line x1="415.4" y1="491.0" x2="419.0" y2="487.4" stroke="#3a3636" stroke-width="1.0" />
<line x1="415.2" y1="489.5" x2="419.2" y2="489.5" stroke="#ec8c76" stroke-width="1.0" />
<line x1="417.5" y1="484.7" x2="417.5" y2="486.4" stroke="#ec8c76" stroke-width="0.9" />
<line x1="417.5" y1="492.0" x2="417.5" y2="493.7" stroke="#ec8c76" stroke-width="0.9" />
<text x="454.1" y="487.7" font-size="8.2" text-anchor="middle" fill="#333" stroke="#333" stroke-width="0.18" transform="rotate(-90 454.1 487.7)" >134</text>
<rect x="542.5" y="463.5" width="14.0" height="49.0" stroke="#3a3636" stroke-width="1" fill="none" rx="0"/>
<rect x="542.5" y="512.5" width="14.0" height="11.0" stroke="#3a3636" stroke-width="1" fill="none" rx="0"/>
<line x1="545.5" y1="512.5" x2="545.5" y2="523.7" stroke="#8a8787" stroke-width="1.2" />
<line x1="553.5" y1="512.5" x2="553.5" y2="523.7" stroke="#8a8787" stroke-width="1.2" />
<line x1="549.5" y1="508" x2="549.5" y2="527" stroke="#ec8c76" stroke-width="1" />
<rect x="556.4" y="470.4" width="2.5" height="37.60000000000002" fill="#5a5656"/>
<rect x="558.5" y="475.5" width="11.0" height="28.0" stroke="#3a3636" stroke-width="1" fill="none" rx="0"/>
<line x1="563.5" y1="475.8" x2="563.5" y2="503.4" stroke="#3a3636" stroke-width="1" />
<rect x="569.5" y="481.5" width="24.0" height="16.0" stroke="#3a3636" stroke-width="1" fill="none" rx="0"/>
<rect x="565.5" y="488.5" width="2.0" height="2.0" stroke="#3a3636" stroke-width="0.8" fill="none" rx="0"/>
<line x1="560.6" y1="470.5" x2="613" y2="470.5" stroke="#3a3636" stroke-width="0.9" />
<line x1="560.6" y1="508.5" x2="613" y2="508.5" stroke="#3a3636" stroke-width="0.9" />
<line x1="611.5" y1="470.4" x2="611.5" y2="508" stroke="#3a3636" stroke-width="0.9" />
<text x="610" y="488" font-size="8.2" text-anchor="middle" fill="#333" stroke="#333" stroke-width="0.18" transform="rotate(-90 610 488)" >Ø110</text>
<line x1="542.5" y1="524" x2="542.5" y2="533" stroke="#3a3636" stroke-width="0.9" />
<line x1="530" y1="529.5" x2="556.6" y2="529.5" stroke="#3a3636" stroke-width="0.9" />
<text x="535.5" y="528.6" font-size="8.2" text-anchor="middle" fill="#333" stroke="#333" stroke-width="0.18" >40</text>
<line x1="556.5" y1="510" x2="556.5" y2="551" stroke="#3a3636" stroke-width="1.2" />
<line x1="558.5" y1="508" x2="558.5" y2="551" stroke="#3a3636" stroke-width="0.9" />
<line x1="356.4" y1="536.5" x2="549.4" y2="536.5" stroke="#3a3636" stroke-width="0.9" />
<text x="433.5" y="535.0" font-size="8.2" text-anchor="start" fill="#333" stroke="#333" stroke-width="0.18" >276.5+行程</text>
<line x1="549.5" y1="527" x2="549.5" y2="538" stroke="#3a3636" stroke-width="0.9" />
<line x1="303.6" y1="548.5" x2="568.6" y2="548.5" stroke="#3a3636" stroke-width="0.9" />
<text x="435.3" y="547.4" font-size="8.2" text-anchor="start" fill="#333" stroke="#333" stroke-width="0.18" >330 + 行程</text>
<text x="324.9" y="548.0" font-size="8.2" text-anchor="middle" fill="#333" stroke="#333" stroke-width="0.18" >L1</text>
<text x="567.2" y="548.2" font-size="8.2" text-anchor="middle" fill="#333" stroke="#333" stroke-width="0.18" >7</text>
<line x1="166.5" y1="663.7" x2="232.3" y2="663.7" stroke="#3a3636" stroke-width="2" />
<line x1="166.5" y1="663.7" x2="166.5" y2="743.7" stroke="#3a3636" stroke-width="1" />
<line x1="166.5" y1="763.6" x2="166.5" y2="785.4" stroke="#3a3636" stroke-width="1" />
<line x1="232.5" y1="663.7" x2="232.5" y2="743.5" stroke="#3a3636" stroke-width="1" />
<line x1="232.5" y1="763.4" x2="232.5" y2="785.4" stroke="#3a3636" stroke-width="1" />
<rect x="172.4" y="669.1999999999999" width="54.2" height="54.1" rx="3.5" stroke="#3a3636" stroke-width="1.1" fill="none"/>
<path d="M192.6 673.9 L181.29999999999998 673.9 L178.1 677.1 L178.1 714.9999999999999 L181.29999999999998 718.1999999999999 L218.9 718.1999999999999 L222.1 714.9999999999999 L222.1 677.1 L218.9 673.9 L206.6 673.9" stroke="#2f2b2b" stroke-width="1.3" fill="none"/>
<circle cx="179.1" cy="674.9" r="1.7" stroke="#2f2b2b" stroke-width="1.2" fill="#fff"/>
<circle cx="221.1" cy="674.9" r="1.7" stroke="#2f2b2b" stroke-width="1.2" fill="#fff"/>
<circle cx="179.1" cy="717.1999999999999" r="1.7" stroke="#2f2b2b" stroke-width="1.2" fill="#fff"/>
<circle cx="221.1" cy="717.1999999999999" r="1.7" stroke="#2f2b2b" stroke-width="1.2" fill="#fff"/>
<path d="M178.29999999999998 681.6999999999999 Q187.1 683.8 189.4 673.9" stroke="#2f2b2b" stroke-width="1.1" fill="none"/>
<circle cx="182.1" cy="678.5" r="1.6" stroke="#2f2b2b" stroke-width="1.3" fill="#fff"/>
<rect x="185.0" y="675.1" width="4" height="3.8" rx="1.3" stroke="#2f2b2b" stroke-width="1.1" fill="#fff"/>
<path d="M214.2 675.0 Q212.1 683.8 222.0 686.0999999999999" stroke="#2f2b2b" stroke-width="1.1" fill="none"/>
<circle cx="217.4" cy="678.8" r="1.6" stroke="#2f2b2b" stroke-width="1.3" fill="#fff"/>
<rect x="216.9" y="681.8" width="4" height="3.8" rx="1.3" stroke="#2f2b2b" stroke-width="1.1" fill="#fff"/>
<path d="M220.9 710.9 Q212.1 708.8 209.79999999999998 718.6999999999999" stroke="#2f2b2b" stroke-width="1.1" fill="none"/>
<circle cx="217.1" cy="714.0999999999999" r="1.6" stroke="#2f2b2b" stroke-width="1.3" fill="#fff"/>
<rect x="210.2" y="713.6999999999999" width="4" height="3.8" rx="1.3" stroke="#2f2b2b" stroke-width="1.1" fill="#fff"/>
<path d="M185.0 717.5999999999999 Q187.1 708.8 177.2 706.5" stroke="#2f2b2b" stroke-width="1.1" fill="none"/>
<circle cx="181.79999999999998" cy="713.8" r="1.6" stroke="#2f2b2b" stroke-width="1.3" fill="#fff"/>
<rect x="178.29999999999998" y="707.0" width="4" height="3.8" rx="1.3" stroke="#2f2b2b" stroke-width="1.1" fill="#fff"/>
<circle cx="199.6" cy="696.3" r="16.0" stroke="#3a3636" stroke-width="1.1" fill="none"/>
<circle cx="199.6" cy="696.3" r="13.4" stroke="#3a3636" stroke-width="1.2" fill="none"/>
<rect x="192.6" y="663.3" width="14.199999999999989" height="15.0" fill="#fff"/>
<rect x="192.6" y="676.8" width="14.0" height="8.0" fill="#fff"/>
<path d="M192.7 683.5 L192.7 678.6999999999999 L194.4 678.6999999999999 L194.4 674.5" stroke="#2f2b2b" stroke-width="1.2" fill="none"/>
<path d="M206.7 683.5 L206.7 678.6999999999999 L205.0 678.6999999999999 L205.0 674.5" stroke="#2f2b2b" stroke-width="1.2" fill="none"/>
<rect x="194.5" y="656.5" width="11.0" height="7.0" stroke="#3a3636" stroke-width="1" fill="none" rx="0"/>
<rect x="192.6" y="663.6999999999999" width="14.2" height="10.6" stroke="#3a3636" stroke-width="1.1" fill="none"/>
<line x1="194.5" y1="663.6999999999999" x2="194.5" y2="674.3" stroke="#8a8787" stroke-width="1" />
<line x1="205.5" y1="663.6999999999999" x2="205.5" y2="674.3" stroke="#8a8787" stroke-width="1" />
<line x1="192.6" y1="668.5" x2="206.79999999999998" y2="668.5" stroke="#8a8787" stroke-width="1" />
<line x1="194.4" y1="674.5" x2="205.0" y2="674.5" stroke="#2f2b2b" stroke-width="1.5" />
<line x1="166.5" y1="643.5" x2="232.3" y2="643.5" stroke="#3a3636" stroke-width="0.9" />
<line x1="166.5" y1="642" x2="166.5" y2="663.7" stroke="#3a3636" stroke-width="0.9" />
<line x1="232.5" y1="642" x2="232.5" y2="663.7" stroke="#3a3636" stroke-width="0.9" />
<text x="200.5" y="642.6" font-size="8.2" text-anchor="middle" fill="#333" stroke="#333" stroke-width="0.18" >L3</text>
<path d="M174.7 775.6 L174.7 730.7 L177.9 727.5 L221.4 727.5 L224.6 730.7 L224.6 775.6 L221.6 778.6 L177.7 778.6 Z" stroke="#3a3636" stroke-width="1" fill="none"/>
<line x1="166.4" y1="785.5" x2="232.4" y2="785.5" stroke="#3a3636" stroke-width="1" />
<rect x="165.5" y="743.5" width="9.0" height="20.0" stroke="#3a3636" stroke-width="1.1" fill="none" rx="0"/>
<rect x="224.5" y="743.5" width="8.0" height="20.0" stroke="#3a3636" stroke-width="1.1" fill="none" rx="0"/>
<rect x="152.5" y="746.5" width="13.0" height="14.0" stroke="#3a3636" stroke-width="1" fill="none" rx="0"/>
<rect x="232.5" y="746.5" width="14.0" height="14.0" stroke="#3a3636" stroke-width="1" fill="none" rx="0"/>
<line x1="152.4" y1="746.4" x2="152.4" y2="760" stroke="#3a3636" stroke-width="1.5" />
<line x1="246.7" y1="746.4" x2="246.7" y2="760" stroke="#3a3636" stroke-width="1.5" />
<circle cx="199.5" cy="753.4" r="18.7" stroke="#3a3636" stroke-width="1" fill="none"/>
<circle cx="199.5" cy="753.4" r="13.5" stroke="#3a3636" stroke-width="1" fill="none"/>
<circle cx="199.5" cy="753.4" r="8.5" stroke="#3a3636" stroke-width="1" fill="none"/>
<circle cx="181" cy="734.7" r="5.7" stroke="#2f2b2b" stroke-width="1.2" fill="#8a8686"/>
<circle cx="181" cy="734.7" r="4.3" stroke="#2f2b2b" stroke-width="1.0" fill="none"/>
<circle cx="181" cy="734.7" r="2.9" stroke="#2f2b2b" stroke-width="1.0" fill="none"/>
<circle cx="181" cy="734.7" r="1.3" stroke="#fff" stroke-width="1.2" fill="#fff"/>
<line x1="174.5" y1="734.5" x2="187.5" y2="734.5" stroke="#ec8c76" stroke-width="0.8" />
<line x1="181.5" y1="728.2" x2="181.5" y2="741.2" stroke="#ec8c76" stroke-width="0.8" />
<circle cx="218.4" cy="734.7" r="5.7" stroke="#2f2b2b" stroke-width="1.2" fill="#8a8686"/>
<circle cx="218.4" cy="734.7" r="4.3" stroke="#2f2b2b" stroke-width="1.0" fill="none"/>
<circle cx="218.4" cy="734.7" r="2.9" stroke="#2f2b2b" stroke-width="1.0" fill="none"/>
<circle cx="218.4" cy="734.7" r="1.3" stroke="#fff" stroke-width="1.2" fill="#fff"/>
<line x1="211.9" y1="734.5" x2="224.9" y2="734.5" stroke="#ec8c76" stroke-width="0.8" />
<line x1="218.5" y1="728.2" x2="218.5" y2="741.2" stroke="#ec8c76" stroke-width="0.8" />
<circle cx="181" cy="771.7" r="5.7" stroke="#2f2b2b" stroke-width="1.2" fill="#8a8686"/>
<circle cx="181" cy="771.7" r="4.3" stroke="#2f2b2b" stroke-width="1.0" fill="none"/>
<circle cx="181" cy="771.7" r="2.9" stroke="#2f2b2b" stroke-width="1.0" fill="none"/>
<circle cx="181" cy="771.7" r="1.3" stroke="#fff" stroke-width="1.2" fill="#fff"/>
<line x1="174.5" y1="771.5" x2="187.5" y2="771.5" stroke="#ec8c76" stroke-width="0.8" />
<line x1="181.5" y1="765.2" x2="181.5" y2="778.2" stroke="#ec8c76" stroke-width="0.8" />
<circle cx="218.4" cy="771.7" r="5.7" stroke="#2f2b2b" stroke-width="1.2" fill="#8a8686"/>
<circle cx="218.4" cy="771.7" r="4.3" stroke="#2f2b2b" stroke-width="1.0" fill="none"/>
<circle cx="218.4" cy="771.7" r="2.9" stroke="#2f2b2b" stroke-width="1.0" fill="none"/>
<circle cx="218.4" cy="771.7" r="1.3" stroke="#fff" stroke-width="1.2" fill="#fff"/>
<line x1="211.9" y1="771.5" x2="224.9" y2="771.5" stroke="#ec8c76" stroke-width="0.8" />
<line x1="218.5" y1="765.2" x2="218.5" y2="778.2" stroke="#ec8c76" stroke-width="0.8" />
<line x1="199.5" y1="656" x2="199.5" y2="788.5" stroke="#ec8c76" stroke-width="1" />
<line x1="158.7" y1="696.5" x2="241" y2="696.5" stroke="#ec8c76" stroke-width="1" />
<line x1="147.5" y1="753.5" x2="251.7" y2="753.5" stroke="#ec8c76" stroke-width="1" />
<line x1="141.9" y1="746.5" x2="152.4" y2="746.5" stroke="#3a3636" stroke-width="0.9" />
<line x1="141.9" y1="760.5" x2="152.4" y2="760.5" stroke="#3a3636" stroke-width="0.9" />
<text x="141.8" y="752.8" font-size="8.2" text-anchor="middle" fill="#333" stroke="#333" stroke-width="0.18" transform="rotate(-90 141.8 752.8)" >Ø40</text>
<line x1="165.5" y1="785" x2="165.5" y2="800.5" stroke="#3a3636" stroke-width="1" />
<line x1="233.5" y1="765" x2="233.5" y2="800.5" stroke="#3a3636" stroke-width="1" />
<line x1="165.8" y1="798.5" x2="233.5" y2="798.5" stroke="#3a3636" stroke-width="0.9" />
<text x="202.4" y="797.9" font-size="8.2" text-anchor="middle" fill="#333" stroke="#333" stroke-width="0.18" >L3+10</text>
<line x1="152.5" y1="762" x2="152.5" y2="816" stroke="#3a3636" stroke-width="0.9" />
<line x1="246.5" y1="762" x2="246.5" y2="816" stroke="#3a3636" stroke-width="0.9" />
<line x1="152.4" y1="814.5" x2="246.7" y2="814.5" stroke="#3a3636" stroke-width="0.9" />
<text x="202.4" y="813.0" font-size="8.2" text-anchor="middle" fill="#333" stroke="#333" stroke-width="0.18" >L3+90</text>
<line x1="273.4" y1="663.5" x2="300.8" y2="663.5" stroke="#3a3636" stroke-width="1" />
<line x1="303.4" y1="663.5" x2="344.3" y2="663.5" stroke="#3a3636" stroke-width="1.2" />
<line x1="303.5" y1="663.9" x2="303.5" y2="815" stroke="#3a3636" stroke-width="1" />
<line x1="335.5" y1="663.9" x2="335.5" y2="785.4" stroke="#3a3636" stroke-width="1" />
<line x1="344.2" y1="663.9" x2="344.2" y2="815" stroke="#3a3636" stroke-width="1.4" />
<line x1="273" y1="785.5" x2="344.2" y2="785.5" stroke="#3a3636" stroke-width="1" />
<line x1="274.5" y1="663.9" x2="274.5" y2="785.4" stroke="#3a3636" stroke-width="0.9" />
<text x="273.0" y="722.7" font-size="8.2" text-anchor="middle" fill="#333" stroke="#333" stroke-width="0.18" transform="rotate(-90 273.0 722.7)" >L2</text>
<line x1="285.5" y1="753.5" x2="285.5" y2="785.4" stroke="#3a3636" stroke-width="0.9" />
<line x1="284" y1="753.5" x2="293.9" y2="753.5" stroke="#3a3636" stroke-width="0.9" />
<text x="284.3" y="768" font-size="8.2" text-anchor="middle" fill="#333" stroke="#333" stroke-width="0.18" transform="rotate(-90 284.3 768)" >95</text>
<line x1="297.9" y1="696.5" x2="415" y2="696.5" stroke="#ec8c76" stroke-width="1" />
<line x1="295.9" y1="753.5" x2="446" y2="753.5" stroke="#ec8c76" stroke-width="1" />
<line x1="463.2" y1="753.5" x2="598.3" y2="753.5" stroke="#ec8c76" stroke-width="1" />
<rect x="344.5" y="674.5" width="5.0" height="7.0" stroke="#3a3636" stroke-width="1" fill="none" rx="0"/>
<rect x="344.5" y="712.5" width="5.0" height="7.0" stroke="#3a3636" stroke-width="1" fill="none" rx="0"/>
<rect x="346.5" y="674.5" width="45.0" height="45.0" stroke="#3a3636" stroke-width="1" fill="none" rx="0"/>
<line x1="349.5" y1="674.5" x2="349.5" y2="719.4000000000001" stroke="#3a3636" stroke-width="1" />
<line x1="387.5" y1="674.5" x2="387.5" y2="719.4000000000001" stroke="#3a3636" stroke-width="1" />
<line x1="346.2" y1="682.5" x2="391.8" y2="682.5" stroke="#8a8686" stroke-width="1" />
<line x1="346.2" y1="716.5" x2="391.8" y2="716.5" stroke="#3a3636" stroke-width="1" />
<rect x="349.7" y="682.0" width="37.900000000000034" height="8.600000000000023" fill="#484444"/>
<rect x="349.7" y="702.3000000000001" width="37.900000000000034" height="5.899999999999977" fill="#484444"/>
<rect x="346.2" y="679.2" width="45.60000000000002" height="2.0" fill="#3f3b3b"/>
<rect x="346.2" y="710.2" width="45.60000000000002" height="2.8999999999999773" fill="#3f3b3b"/>
<line x1="346.2" y1="677.5" x2="391.8" y2="677.5" stroke="#8a8686" stroke-width="1" />
<rect x="374.5" y="657.5" width="11.0" height="7.0" stroke="#3a3636" stroke-width="1" fill="none" rx="0"/>
<rect x="372.5" y="664.5" width="15.0" height="10.0" stroke="#3a3636" stroke-width="1" fill="none" rx="0"/>
<line x1="377.5" y1="664.7" x2="377.5" y2="674.5" stroke="#3a3636" stroke-width="0.9" />
<line x1="383.5" y1="664.7" x2="383.5" y2="674.5" stroke="#3a3636" stroke-width="0.9" />
<rect x="390.4" y="679.2" width="2.8000000000000114" height="33.0" fill="#3a3636"/>
<rect x="393.5" y="678.5" width="14.0" height="33.0" stroke="#3a3636" stroke-width="1" fill="none" rx="0"/>
<rect x="395.5" y="671.5" width="11.0" height="7.0" stroke="#3a3636" stroke-width="1" fill="none" rx="0"/>
<line x1="393.2" y1="685.5" x2="407.9" y2="685.5" stroke="#8a8787" stroke-width="1" />
<line x1="344.1" y1="730.5" x2="542.2" y2="730.5" stroke="#3a3636" stroke-width="1" />
<line x1="344.1" y1="775.5" x2="542.2" y2="775.5" stroke="#3a3636" stroke-width="1" />
<line x1="344.1" y1="734.5" x2="369.4" y2="734.5" stroke="#3a3636" stroke-width="0.9" />
<line x1="344.1" y1="772.5" x2="369.4" y2="772.5" stroke="#3a3636" stroke-width="0.9" />
<line x1="369.5" y1="730.1" x2="369.5" y2="775.7" stroke="#3a3636" stroke-width="1" />
<circle cx="356.7" cy="753.4" r="10.1" stroke="#3a3636" stroke-width="1" fill="none"/>
<circle cx="356.7" cy="753.4" r="6.6" stroke="#3a3636" stroke-width="1" fill="none"/>
<line x1="356.5" y1="738" x2="356.5" y2="768" stroke="#ec8c76" stroke-width="1" />
<line x1="356.5" y1="778" x2="356.5" y2="797.5" stroke="#3a3636" stroke-width="0.9" />
<line x1="456.5" y1="730.1" x2="456.5" y2="775.7" stroke="#3a3636" stroke-width="1" />
<line x1="369.4" y1="733.5" x2="542.2" y2="733.5" stroke="#8f8c8c" stroke-width="1.8" />
<line x1="369.4" y1="737.9" x2="542.2" y2="737.9" stroke="#2e2a2a" stroke-width="1.9" />
<line x1="369.4" y1="739.7" x2="542.2" y2="739.7" stroke="#8f8c8c" stroke-width="1.4" />
<line x1="369.4" y1="742.5" x2="542.2" y2="742.5" stroke="#3a3636" stroke-width="1" />
<line x1="369.4" y1="743.9" x2="542.2" y2="743.9" stroke="#8f8c8c" stroke-width="1.8" />
<line x1="369.4" y1="762.3000000000001" x2="542.2" y2="762.3000000000001" stroke="#8f8c8c" stroke-width="1.8" />
<line x1="369.4" y1="764.5" x2="542.2" y2="764.5" stroke="#3a3636" stroke-width="1" />
<line x1="369.4" y1="766.3000000000001" x2="542.2" y2="766.3000000000001" stroke="#8f8c8c" stroke-width="1.8" />
<line x1="369.4" y1="768.1" x2="542.2" y2="768.1" stroke="#2e2a2a" stroke-width="1.9" />
<line x1="369.4" y1="772.5" x2="542.2" y2="772.5" stroke="#3a3636" stroke-width="1" />
<circle cx="417" cy="753.4" r="2.5" stroke="#2f2b2b" stroke-width="1.3" fill="#fff"/>
<line x1="415.2" y1="751.6" x2="418.8" y2="755.1999999999999" stroke="#3a3636" stroke-width="1.0" />
<line x1="415.2" y1="755.1999999999999" x2="418.8" y2="751.6" stroke="#3a3636" stroke-width="1.0" />
<line x1="415" y1="753.5" x2="419" y2="753.5" stroke="#ec8c76" stroke-width="1.0" />
<line x1="417.5" y1="748.9" x2="417.5" y2="750.6" stroke="#ec8c76" stroke-width="0.9" />
<line x1="417.5" y1="756.1999999999999" x2="417.5" y2="757.9" stroke="#ec8c76" stroke-width="0.9" />
<text x="454.5" y="751.4" font-size="8.2" text-anchor="middle" fill="#333" stroke="#333" stroke-width="0.18" transform="rotate(-90 454.5 751.4)" >134</text>
<rect x="542.5" y="726.5" width="15.0" height="52.0" stroke="#3a3636" stroke-width="1" fill="none" rx="0"/>
<rect x="557.1" y="734.9" width="2.3999999999999773" height="36.5" fill="#5a5656"/>
<rect x="559.5" y="739.5" width="10.0" height="27.0" stroke="#3a3636" stroke-width="1" fill="none" rx="0"/>
<line x1="563.5" y1="739.4" x2="563.5" y2="766.6" stroke="#3a3636" stroke-width="1" />
<rect x="569.5" y="744.5" width="24.0" height="17.0" stroke="#3a3636" stroke-width="1" fill="none" rx="0"/>
<rect x="565.5" y="752.5" width="2.0" height="2.0" stroke="#3a3636" stroke-width="0.8" fill="none" rx="0"/>
<line x1="561" y1="734.5" x2="613" y2="734.5" stroke="#3a3636" stroke-width="0.9" />
<line x1="561" y1="771.5" x2="613" y2="771.5" stroke="#3a3636" stroke-width="0.9" />
<line x1="611.5" y1="734.9" x2="611.5" y2="771.4" stroke="#3a3636" stroke-width="0.9" />
<text x="610" y="752.6" font-size="8.2" text-anchor="middle" fill="#333" stroke="#333" stroke-width="0.18" transform="rotate(-90 610 752.6)" >Ø110</text>
<line x1="542.5" y1="781" x2="542.5" y2="790" stroke="#3a3636" stroke-width="0.9" />
<line x1="522.8" y1="787.5" x2="557.3" y2="787.5" stroke="#3a3636" stroke-width="0.9" />
<text x="529.5" y="787.3" font-size="8.2" text-anchor="middle" fill="#333" stroke="#333" stroke-width="0.18" >40</text>
<line x1="557.5" y1="778.6" x2="557.5" y2="815" stroke="#3a3636" stroke-width="1.2" />
<line x1="559.5" y1="771.4" x2="559.5" y2="815" stroke="#3a3636" stroke-width="0.9" />
<line x1="356.7" y1="796.5" x2="557.3" y2="796.5" stroke="#3a3636" stroke-width="0.9" />
<text x="436.3" y="794.8" font-size="8.2" text-anchor="start" fill="#333" stroke="#333" stroke-width="0.18" >296.5+行程</text>
<line x1="303.4" y1="812.5" x2="568" y2="812.5" stroke="#3a3636" stroke-width="0.9" />
<text x="437.3" y="811.4" font-size="8.2" text-anchor="start" fill="#333" stroke="#333" stroke-width="0.18" >330 + 行程</text>
<text x="324.7" y="812.0" font-size="8.2" text-anchor="middle" fill="#333" stroke="#333" stroke-width="0.18" >L1</text>
<text x="566.5" y="811.2" font-size="8.2" text-anchor="middle" fill="#333" stroke="#333" stroke-width="0.18" >7</text>
</svg>
</body></html>
